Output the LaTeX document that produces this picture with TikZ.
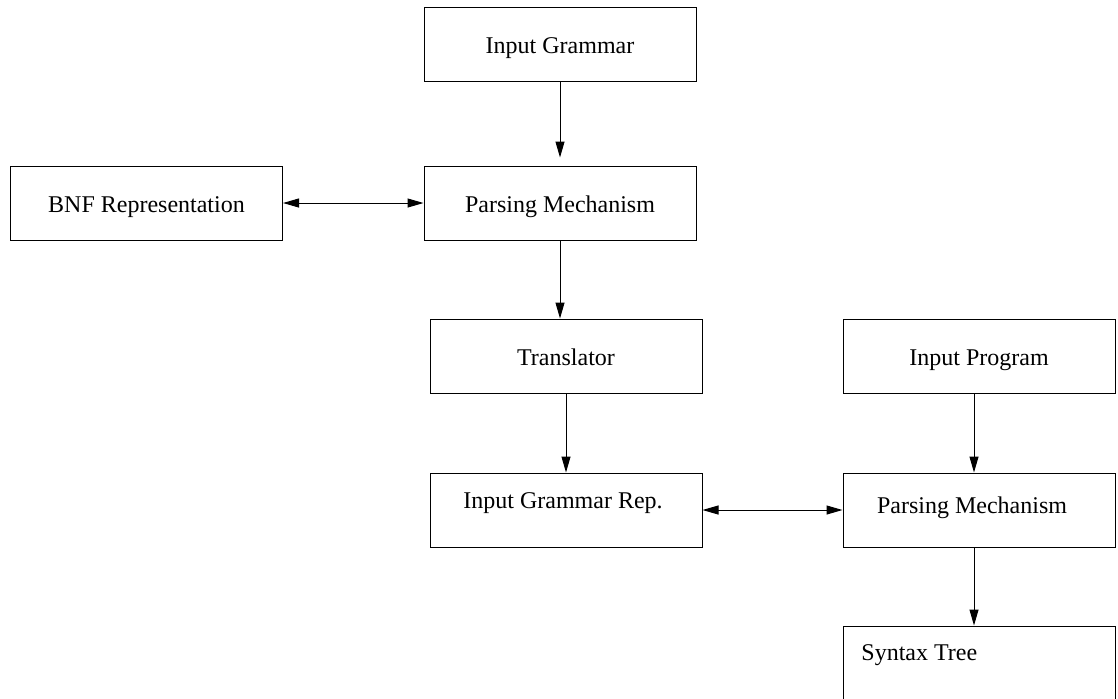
\documentclass[tikz,border=0pt]{standalone}
\usepackage{fontspec}
\setmainfont{Liberation Serif}
\usetikzlibrary{arrows.meta}
\tikzset{
  block/.style={draw, rectangle, line width=0.5pt, minimum width=136pt, minimum height=37pt, inner sep=0pt, text height=9pt, text depth=0pt, font=\fontsize{12}{14}\selectfont},
  txt/.style={inner sep=0pt, font=\fontsize{12}{14}\selectfont},
  flow/.style={draw, line width=0.5pt, -{Triangle[length=8pt,width=4.5pt]}},
  both/.style={draw, line width=0.5pt, {Triangle[length=8pt,width=4.5pt]}-{Triangle[length=8pt,width=4.5pt]}},
}
\begin{document}
\begin{tikzpicture}[x=0.5pt,y=-0.5pt]
\useasboundingbox (0,0) rectangle (1118,698);
\node[block] (ig) at (560,44) {Input Grammar};
\node[block] (bnf) at (146.5,203) {BNF Representation};
\node[block] (pm1) at (560,203) {Parsing Mechanism};
\node[block] (tr) at (566,356) {Translator};
\node[block] (ip) at (979,356) {Input Program};
\node[block] (igr) at (566,510) {};
\node[block] (pm2) at (979,510) {};
\node[block] (st) at (979,663) {};
\node[txt, anchor=base] (igrtext) at (563,508) {Input Grammar Rep.};
\node[txt, anchor=base] (pm2text) at (972,513) {Parsing Mechanism};
\node[txt, anchor=base west] (sttext) at (861,660) {Syntax Tree};

\path[flow] (ig) -- ([yshift=4pt]pm1.north);
\path[both] (bnf) -- (pm1);
\path[flow] (pm1.south) -- (pm1.south |- tr.north);
\path[flow] (tr) -- (igr);
\path[flow] ([xshift=-2.5pt]ip.south) -- ([xshift=-2.5pt]pm2.north);
\path[both] (igr) -- (pm2);
\path[flow] ([xshift=-2.5pt]pm2.south) -- ([xshift=-2.5pt]st.north);
\end{tikzpicture}
\end{document}
